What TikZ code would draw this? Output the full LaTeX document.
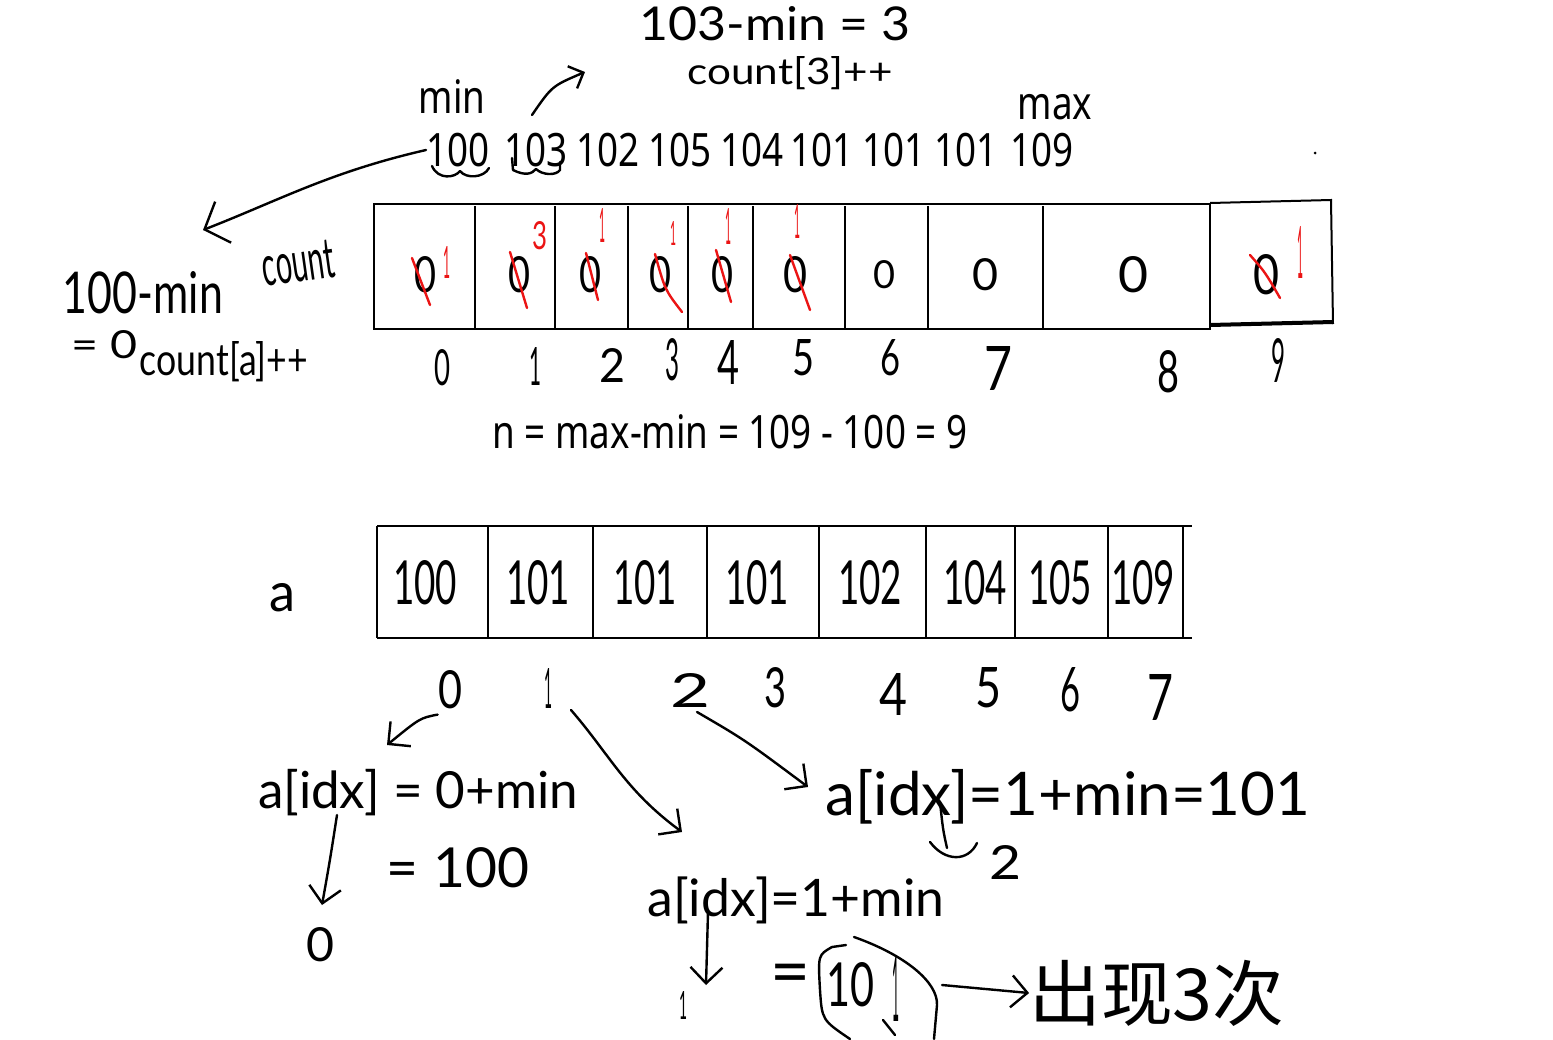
\documentclass[tikz,border=0pt]{standalone}
\usepackage{fontspec}
\usepackage{graphicx}
\usetikzlibrary{arrows.meta}
\setmainfont{Noto Sans}
\newfontfamily\pf[FakeStretch=0.8]{Noto Sans}
\newfontfamily\hf{Lato}
\newfontfamily\cjk{Noto Sans CJK SC}
\newcommand\fw[2]{\resizebox{\dimexpr#1pt/2\relax}{!}{#2}}
\newcommand\fwh[3]{\resizebox{\dimexpr#1pt/2\relax}{\dimexpr#2pt/2\relax}{#3}}
\definecolor{pred}{RGB}{235,20,20}
\tikzset{
  pen/.style={line width=1.2pt, line cap=round, line join=round},
  redpen/.style={pen, draw=pred},
  boxline/.style={line width=1pt},
  harrow/.style={pen, -{Straight Barb[length=8pt,width=16pt]}},
  ptxt/.style={font=\pf\fontsize{23}{26}\selectfont, inner sep=0pt},
  htxt/.style={font=\hf, inner sep=0pt},
  rtxt/.style={font=\hf, inner sep=0pt, text=pred},
}
\begin{document}
\begin{tikzpicture}[x=0.5pt,y=-0.5pt]
\clip (0,0) rectangle (1553,1039);
\fill[white] (0,0) rectangle (1553,1039);

% ---------- printed texts ----------
\node[ptxt] (min) at (452,97) {min};
\node[ptxt] (max) at (1055,107) {max};
\foreach \x/\t [count=\i from 0] in {458/100,536/103,608/102,680/105,752/104,822/101,894/101,966/101,1042/109}
  \node[ptxt] (v\i) at (\x,150) {\t};
\node[ptxt] (nline) at (730,432) {n = max-min = 109 - 100 = 9};
\fill (1315,153) circle (1.5);

% squiggles under 100 and 103
\draw[pen] (432,166) .. controls (438,180) and (455,178) .. (460,171) .. controls (466,179) and (484,178) .. (489,168);
\draw[pen] (512,158) -- (513,170) .. controls (525,176) and (532,174) .. (536,169) .. controls (542,175) and (556,176) .. (560,170) -- (560,162);

% handwritten notes at top
\node[htxt] (t103) at (775,24) {\fwh{270}{34}{103-min = 3}};
\node[htxt] (tc3) at (790,73) {\fwh{205}{28}{count[3]++}};
\coordinate (a103s) at (532,115);
\coordinate (a103e) at (585,72);
\draw[pen, -{Straight Barb[length=6pt,width=12pt]}] (a103s) .. controls (552,86) .. (a103e);

% left notes
\node[htxt, rotate=8] (tcount) at (298,263) {\fwh{72}{38}{count}};
\node[htxt] (t100) at (143,293) {\fwh{160}{42}{100-min}};
\node[htxt] (teq0) at (105,345) {\fwh{66}{28}{= 0}};
\node[htxt] (tca) at (224,362) {\fwh{168}{34}{count[a]++}};
\coordinate (lefttip) at (203,230);
\draw[pen, -{Straight Barb[length=10pt,width=22pt]}] (v0.west) .. controls (330,172) and (280,200) .. (lefttip);

% ---------- count array ----------
\draw[boxline] (374,204) rectangle (1210,329);
\foreach \x in {475,555,628,688,753,845,928,1043}
  \draw[boxline] (\x,206) -- (\x,329);
\draw[boxline] (1210,203) -- (1331,200) -- (1333,324);
\draw[line width=2pt] (1210,325) -- (1333,322);

\foreach \x/\w/\h [count=\i from 0] in {425/22/36,519/22/36,590/22/36,660/22/36,722/22/36,795/24/36,884/22/28,985/26/32,1133/30/36,1266/26/40}
  \node[htxt] (z\i) at (\x,275) {\fwh{\w}{\h}{0}};

% red marks
\draw[redpen] (412,258) -- (430,305);
\draw[redpen] (510,252) -- (527,308);
\draw[redpen] (586,253) -- (598,300);
\draw[redpen] (655,254) .. controls (665,290) .. (682,312);
\draw[redpen] (716,250) -- (731,302);
\draw[redpen] (790,255) -- (810,310);
\draw[redpen] (1250,255) .. controls (1265,272) .. (1280,298);
\node[rtxt] (r0) at (447,262) {\fwh{7}{32}{1}};
\node[rtxt] (r1) at (540,236) {\fwh{15}{28}{3}};
\node[rtxt] (r2) at (602,225) {\fwh{6}{34}{1}};
\node[rtxt] (r3) at (673,233) {\fwh{6}{24}{1}};
\node[rtxt] (r4) at (728,226) {\fwh{6}{36}{1}};
\node[rtxt] (r5) at (797,221) {\fwh{6}{34}{1}};
\node[rtxt] (r9) at (1300,252) {\fwh{6}{52}{1}};

% indices
\foreach \x/\y/\t/\w/\h [count=\i from 0] in {442/368/0/16/36,535/366/1/12/38,612/365/2/26/34,672/360/3/14/42,728/362/4/22/44,803/358/5/22/36,890/358/6/20/36,998/368/7/28/44,1168/372/8/22/42,1278/360/9/14/44}
  \node[htxt] (l\i) at (\x,\y) {\fwh{\w}{\h}{\t}};

% ---------- array a ----------
\node[htxt] (ta) at (282,598) {\fwh{26}{28}{a}};
\draw[line width=1.4pt] (377,526) -- (1192,526);
\draw[line width=1.4pt] (377,638) -- (1192,638);
\draw[boxline] (377,526) -- (377,638);
\foreach \x in {488,593,707,819,926,1015,1108,1183}
  \draw[boxline] (\x,526) -- (\x,638);
\foreach \x/\t [count=\i from 0] in {425/100,538/101,645/101,757/101,870/102,975/104,1060/105,1143/109}
  \node[htxt] (c\i) at (\x,583) {\fwh{64}{44}{\t}};

\foreach \x/\y/\t/\w/\h [count=\i from 0] in {450/690/0/24/38,548/688/1/8/40,690/690/2/40/34,775/688/3/22/40,893/694/4/28/42,988/688/5/26/40,1070/690/6/20/44,1160/697/7/26/46}
  \node[htxt] (b\i) at (\x,\y) {\fwh{\w}{\h}{\t}};

% ---------- derivations ----------
\node[htxt] (eq1) at (418,793) {\fw{320}{a[idx] = 0+min}};
\node[htxt] (eq1b) at (458,868) {\fw{142}{= 100}};
\node[htxt] (zero) at (320,945) {\fwh{28}{34}{0}};
\node[htxt] (eq2) at (1068,797) {\fw{485}{a[idx]=1+min=101}};
\node[htxt] (two) at (1005,862) {\fwh{32}{34}{2}};
\node[htxt] (eq3) at (796,900) {\fw{297}{a[idx]=1+min}};
\node[htxt] (eqs) at (790,980) {\fw{40}{=}};
\node[htxt] (ten) at (850,985) {\fwh{48}{44}{10}};
\node[htxt] (one) at (896,988) {\fwh{7}{66}{1}};
\node[htxt] (cx) at (1157,993) {\fw{255}{\cjk 出现3次}};
\node[htxt] (onecut) at (683,1005) {\fwh{8}{28}{1}};

% loop round 101
\draw[pen] (846,945) -- (832,947) .. controls (818,955) .. (820,990) .. controls (822,1020) .. (850,1039);
\draw[pen] (854,937) .. controls (905,955) and (938,982) .. (937,1005) -- (934,1039);
\draw[pen] (883,1020) -- (895,1035);

% arrows
\coordinate (e1) at (387,745);
\draw[harrow] (b0.south west) ++(0,5) .. controls (420,718) .. (e1);
\coordinate (e2) at (682,832);
\draw[harrow] (571,710) .. controls (610,755) and (625,790) .. (e2);
\coordinate (e3) at (808,787);
\draw[harrow] (697,712) .. controls (745,740) .. (e3);
\coordinate (i1) at (337,815);
\coordinate (e4) at (322,905);
\draw[harrow] (i1) .. controls (330,860) .. (e4);
\coordinate (i3) at (708,912);
\coordinate (e5) at (706,985);
\draw[harrow] (i3) -- (e5);
\draw[harrow] (942,985) -- (cx.west);
\coordinate (i2) at (940,802);
\draw[pen] (i2) .. controls (943,830) .. (947,848);
\draw[pen] (930,842) .. controls (945,862) and (968,862) .. (977,843);
\end{tikzpicture}
\end{document}
